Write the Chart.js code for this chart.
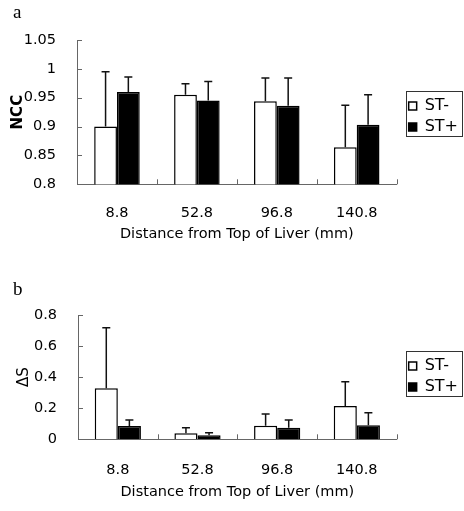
<!DOCTYPE html>
<html>
<head>
<meta charset="utf-8">
<script src="https://cdn.jsdelivr.net/npm/chart.js"></script>
<style>
body { margin: 0; background: #fff; }
#wrap { position: relative; width: 464px; height: 511px; }
.panel { position: absolute; left: 0; width: 464px; }
.lbl { position: absolute; left: 13px; font-family: 'Liberation Serif', serif; font-size: 19px; line-height: 1; }
</style>
</head>
<body>
<div id="wrap">
  <div class="panel" style="top:0;height:255px"><canvas id="ChartA"></canvas></div>
  <div class="panel" style="top:255px;height:256px"><canvas id="ChartB"></canvas></div>
  <div class="lbl" style="top:2px">a</div>
  <div class="lbl" style="top:279px">b</div>
</div>
<script>
// data
const distances = ['8.8', '52.8', '96.8', '140.8'];

const nccMinus    = [0.900, 0.955, 0.944, 0.864];
const nccMinusErr = [0.095, 0.019, 0.040, 0.073];
const nccPlus     = [0.960, 0.945, 0.936, 0.903];
const nccPlusErr  = [0.026, 0.033, 0.048, 0.052];
const nccTicks    = [0.8, 0.85, 0.9, 0.95, 1, 1.05];

const dsMinus    = [0.328, 0.039, 0.088, 0.214];
const dsMinusErr = [0.390, 0.036, 0.075, 0.157];
const dsPlus     = [0.086, 0.026, 0.075, 0.090];
const dsPlusErr  = [0.038, 0.016, 0.049, 0.081];
const dsTicks    = [0, 0.2, 0.4, 0.6, 0.8];

Chart.defaults.font.family = 'DejaVu Sans';
Chart.defaults.color = '#000';
Chart.defaults.animation = false;

// upward error bars, from the bar top
const errorBars = {
    id: 'errorBars',
    afterDatasetsDraw(chart) {
        const ctx = chart.ctx;
        const y = chart.scales.y;
        chart.data.datasets.forEach((ds, di) => {
            chart.getDatasetMeta(di).data.forEach((bar, i) => {
                const top = y.getPixelForValue(ds.data[i] + ds.err[i]);
                ctx.save();
                ctx.strokeStyle = '#111';
                ctx.lineWidth = 1.5;
                ctx.beginPath();
                ctx.moveTo(bar.x, bar.y);
                ctx.lineTo(bar.x, top);
                ctx.moveTo(bar.x - 4, top);
                ctx.lineTo(bar.x + 4, top);
                ctx.stroke();
                ctx.restore();
            });
        });
    }
};

// inner tick marks + frame round the legend
const axisMarks = {
    id: 'axisMarks',
    afterLayout(chart, args, opts) {
        const lg = chart.legend;
        lg.left += opts.dx; lg.right += opts.dx;
        lg.top += opts.dy; lg.bottom += opts.dy;
    },
    afterDraw(chart) {
        const {ctx, chartArea: a, scales: {x, y}} = chart;
        ctx.save();
        ctx.strokeStyle = '#666';
        ctx.lineWidth = 1;
        ctx.beginPath();
        y.ticks.forEach(t => {
            const py = Math.round(y.getPixelForValue(t.value)) + 0.5;
            ctx.moveTo(a.left, py);
            ctx.lineTo(a.left + 5, py);
        });
        const n = chart.data.labels.length;
        const w = (a.right - a.left) / n;
        for (let i = 1; i <= n; i++) {
            const px = Math.round(a.left + i * w) + 0.5;
            ctx.moveTo(px, a.bottom);
            ctx.lineTo(px, a.bottom - 5);
        }
        ctx.stroke();

        const boxes = chart.legend.legendHitBoxes;
        const l = Math.min(...boxes.map(b => b.left)) - 3;
        const t = Math.min(...boxes.map(b => b.top)) - 7;
        const r = Math.max(...boxes.map(b => b.left + b.width)) + 4;
        const bt = Math.max(...boxes.map(b => b.top + b.height)) + 1;
        ctx.strokeStyle = '#333';
        ctx.strokeRect(Math.round(l) + 0.5, Math.round(t) + 0.5, Math.round(r - l), Math.round(bt - t));
        ctx.restore();
    }
};

function makeChart(id, minus, minusErr, plus, plusErr, ticks, yTitle, yBold, geo) {
    return new Chart(document.getElementById(id), {
        type: 'bar',
        data: {
            labels: distances,
            datasets: [{
                label: 'ST-',
                data: minus,
                err: minusErr,
                backgroundColor: '#fff',
                borderColor: '#000',
                borderWidth: 1.5
            }, {
                label: 'ST+',
                data: plus,
                err: plusErr,
                backgroundColor: '#000',
                borderColor: '#000',
                borderWidth: 1.5
            }]
        },
        options: {
            maintainAspectRatio: false,
            responsive: true,
            datasets: {
                bar: { barPercentage: 1, categoryPercentage: geo.cat }
            },
            layout: { padding: { top: geo.top, right: 3, bottom: 0, left: 0 } },
            scales: {
                x: {
                    grid: { display: false },
                    border: { color: '#666', width: 1 },
                    ticks: { padding: geo.xpad, font: { size: 14.5 } },
                    title: {
                        display: true,
                        text: 'Distance from Top of Liver (mm)',
                        font: { size: 14.5 },
                        padding: { top: 0, bottom: geo.tpad }
                    },
                    afterFit: s => { s.height = geo.xh; }
                },
                y: {
                    min: ticks[0],
                    max: ticks[ticks.length - 1],
                    grid: { display: false },
                    border: { color: '#666', width: 1 },
                    afterBuildTicks: s => { s.ticks = ticks.map(v => ({ value: v })); },
                    ticks: {
                        padding: 13,
                        font: { size: 14.5 },
                        callback: v => String(v)
                    },
                    title: {
                        display: true,
                        text: yTitle,
                        font: { size: 15, weight: yBold ? 'bold' : 'normal' },
                        padding: { top: geo.ytpad, bottom: 0 }
                    },
                    afterFit: s => { s.width = geo.left; }
                }
            },
            plugins: {
                legend: {
                    position: 'right',
                    labels: { boxWidth: 8, boxHeight: 8, padding: 5, font: { size: 16 } }
                },
                tooltip: { enabled: false },
                axisMarks: { dx: 7, dy: geo.dy }
            }
        },
        plugins: [errorBars, axisMarks]
    });
}

makeChart('ChartA', nccMinus, nccMinusErr, nccPlus, nccPlusErr, nccTicks, 'NCC', true,
    { cat: 0.57, top: 40, xh: 70.7, left: 77, dy: -31, xpad: 12, tpad: 12, ytpad: 9 });
makeChart('ChartB', dsMinus, dsMinusErr, dsPlus, dsPlusErr, dsTicks, 'ΔS', false,
    { cat: 0.58, top: 60, xh: 71.7, left: 78, dy: -36.6, xpad: 14, tpad: 10, ytpad: 15 });
</script>
</body>
</html>
